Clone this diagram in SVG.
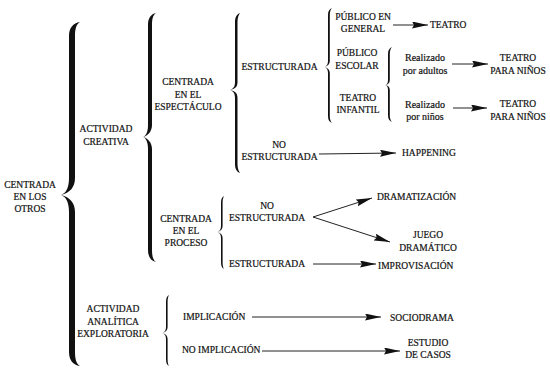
<svg xmlns="http://www.w3.org/2000/svg" width="550" height="368" viewBox="0 0 550 368">
<defs>
<style>
text{font-family:"Liberation Serif","Times New Roman","DejaVu Serif",serif;font-size:9.5px;fill:#111;stroke:#111;stroke-width:0.2px;text-anchor:middle}
.s{text-anchor:start}
.lc{font-size:10px}
.c{stroke:#222;stroke-width:1;fill:none}
.b{fill:#111}
</style>
<marker id="ah" markerUnits="userSpaceOnUse" markerWidth="17" markerHeight="8" refX="16" refY="3.5" orient="auto">
<path d="M0,0 L16,3.5 L0,7 L2,3.5 Z" fill="#111"/>
</marker>
</defs>
<rect width="550" height="368" fill="#fff"/>
<g id="braces">
<path class="b" d="M80 22 C73 23 69 28 69 36 L69 178 C69 188 66 193 61 195 C66 197 69 202 69 212 L69 352 C69 360 73 365 80 366 C76 364 75 358 75 352 L75 212 C75 203 70 197 61 195 C70 193 75 187 75 178 L75 36 C75 30 76 24 80 22 Z"/>
<path class="b" d="M156 13 C151 14 148 18 148 25 L148 125 C148 132 146 136 143 137 C146 138 148 142 148 149 L148 250 C148 257 151 261 156 262 C153 260 152 256 152 250 L152 149 C152 143 148 138 143 137 C148 136 152 131 152 125 L152 25 C152 19 153 15 156 13 Z"/>
<path class="b" d="M240 13 C237 14 235 17 235 22 L235 82 C235 87 233 89 230 90 C233 91 235 93 235 98 L235 164 C235 169 237 172 240 173 C238.5 171 237.5 168 237.5 164 L237.5 98 C237.5 93 235 91 230 90 C235 89 237.5 87 237.5 82 L237.5 22 C237.5 18 238.5 15 240 13 Z"/>
<path class="b" d="M332 8 C329.5 9 328 11 328 15 L328 61 C328 64 327 66 324.5 67 C327 68 328 70 328 73 L328 116 C328 120 329.5 122 332 123 C330.5 121.5 329.8 119 329.8 116 L329.8 73 C329.8 70 328 68 324.5 67 C328 66 329.8 64 329.8 61 L329.8 15 C329.8 12 330.5 9.5 332 8 Z"/>
<path class="b" d="M392 47 C389.5 48 388 50 388 54 L388 80 C388 83 387 84.5 385 85 C387 85.5 388 87 388 90 L388 115 C388 119 389.5 121 392 122 C390.5 120.5 389.8 118 389.8 115 L389.8 90 C389.8 87 388 85.5 385 85 C388 84.5 389.8 83 389.8 80 L389.8 54 C389.8 51 390.5 48.5 392 47 Z"/>
<path class="b" d="M224 196 C222 197 221 199 221 203 L221 226 C221 229 220 231 217.5 232 C220 233 221 235 221 238 L221 262 C221 266 222 268 224 269 C223 267.5 222.6 265 222.6 262 L222.6 238 C222.6 235 221 233 217.5 232 C221 231 222.6 229 222.6 226 L222.6 203 C222.6 200 223 198 224 196 Z"/>
<path class="b" d="M169 295 C167 296 166 298 166 302 L166 327 C166 330 165 332 162.5 333 C165 334 166 336 166 339 L166 359 C166 363 167 365 169 366 C168 364.5 167.6 362 167.6 359 L167.6 339 C167.6 336 166 334 162.5 333 C166 332 167.6 330 167.6 327 L167.6 302 C167.6 299 168 297 169 295 Z"/>
</g>
<g id="connectors">
<line class="c" x1="393" y1="25" x2="428" y2="25" marker-end="url(#ah)"/>
<line class="c" x1="452" y1="64" x2="488" y2="64" marker-end="url(#ah)"/>
<line class="c" x1="453" y1="108" x2="487" y2="108" marker-end="url(#ah)"/>
<line class="c" x1="319" y1="154" x2="396" y2="153" marker-end="url(#ah)"/>
<line class="c" x1="313" y1="217" x2="372" y2="198" marker-end="url(#ah)"/>
<line class="c" x1="313" y1="217" x2="390" y2="242" marker-end="url(#ah)"/>
<line class="c" x1="313" y1="264" x2="376" y2="264" marker-end="url(#ah)"/>
<line class="c" x1="252" y1="317" x2="381" y2="317" marker-end="url(#ah)"/>
<line class="c" x1="262" y1="351" x2="400" y2="351" marker-end="url(#ah)"/>
</g>
<g font-family="Liberation Serif, Times New Roman, serif">
<g id="n-otros"><text x="30" y="188">CENTRADA</text><text x="30" y="200">EN LOS</text><text x="30" y="212">OTROS</text></g>
<g id="n-creativa"><text x="106" y="132">ACTIVIDAD</text><text x="106" y="145">CREATIVA</text></g>
<g id="n-espectaculo"><text x="188" y="85">CENTRADA</text><text x="188" y="98">EN EL</text><text x="188" y="110">ESPECTÁCULO</text></g>
<g id="n-estructurada1"><text x="279.5" y="70">ESTRUCTURADA</text></g>
<g id="n-general"><text x="363" y="20">PÚBLICO EN</text><text x="363" y="32">GENERAL</text></g>
<g id="n-teatro"><text class="s" x="430" y="28">TEATRO</text></g>
<g id="n-escolar"><text x="357" y="56">PÚBLICO</text><text x="357" y="69">ESCOLAR</text></g>
<g id="n-infantil"><text x="358" y="101">TEATRO</text><text x="358" y="113">INFANTIL</text></g>
<g id="n-adultos"><text class="lc" x="425" y="61">Realizado</text><text class="lc" x="425" y="74">por adultos</text></g>
<g id="n-tpn1"><text x="518" y="61">TEATRO</text><text x="518" y="74">PARA NIÑOS</text></g>
<g id="n-ninos"><text class="lc" x="425" y="108">Realizado</text><text class="lc" x="425" y="120">por niños</text></g>
<g id="n-tpn2"><text x="518" y="107">TEATRO</text><text x="518" y="120">PARA NIÑOS</text></g>
<g id="n-noestr1"><text x="279" y="148">NO</text><text x="279.5" y="160">ESTRUCTURADA</text></g>
<g id="n-happening"><text class="s" x="402" y="156">HAPPENING</text></g>
<g id="n-proceso"><text x="186" y="222">CENTRADA</text><text x="186" y="234">EN EL</text><text x="186" y="246">PROCESO</text></g>
<g id="n-noestr2"><text x="267" y="209">NO</text><text x="267" y="221">ESTRUCTURADA</text></g>
<g id="n-dramatizacion"><text class="s" x="377" y="200">DRAMATIZACIÓN</text></g>
<g id="n-juego"><text x="428" y="238">JUEGO</text><text x="428" y="251">DRAMÁTICO</text></g>
<g id="n-estructurada2"><text x="267" y="267">ESTRUCTURADA</text></g>
<g id="n-improvisacion"><text class="s" x="378" y="269">IMPROVISACIÓN</text></g>
<g id="n-analitica"><text x="113" y="312">ACTIVIDAD</text><text x="113" y="325">ANALÍTICA</text><text x="113" y="337">EXPLORATORIA</text></g>
<g id="n-implicacion"><text class="s" x="183" y="320">IMPLICACIÓN</text></g>
<g id="n-sociodrama"><text class="s" x="390" y="321">SOCIODRAMA</text></g>
<g id="n-noimplicacion"><text class="s" x="182" y="353">NO IMPLICACIÓN</text></g>
<g id="n-casos"><text x="428" y="346">ESTUDIO</text><text x="428" y="358">DE CASOS</text></g>
</g>
</svg>
